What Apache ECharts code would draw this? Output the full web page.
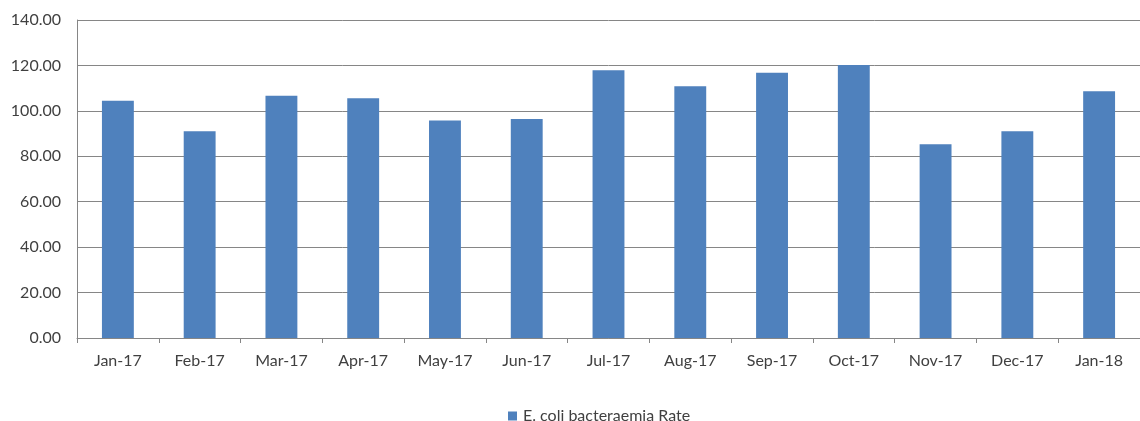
<!DOCTYPE html>
<html>
<head>
<meta charset="utf-8">
<script src="https://cdn.jsdelivr.net/npm/echarts@6/dist/echarts.min.js"></script>
<style>
html,body{margin:0;padding:0;background:#fff;}
#chart{width:1140px;height:421px;}
</style>
</head>
<body>
<div id="chart"></div>
<script>
const categories = ['Jan-17','Feb-17','Mar-17','Apr-17','May-17','Jun-17','Jul-17','Aug-17','Sep-17','Oct-17','Nov-17','Dec-17','Jan-18'];
const rateValues = [104.5, 91.0, 106.7, 105.5, 95.7, 96.4, 117.9, 110.8, 116.8, 120.2, 85.3, 91.0, 108.6];
const seriesName = 'E. coli bacteraemia Rate';
const yTicks = [0, 20, 40, 60, 80, 100, 120, 140];

const chart = echarts.init(document.getElementById('chart'), null, {renderer: 'canvas'});
const font = 'Lato, "Open Sans", sans-serif';
chart.setOption({
  animation: false,
  backgroundColor: '#ffffff',
  textStyle: {fontFamily: font},
  grid: {left: 77, right: 0, top: 20, bottom: 83, containLabel: false},
  legend: {
    data: [seriesName],
    left: 503,
    top: 403,
    icon: 'rect',
    itemWidth: 9,
    itemHeight: 9,
    itemGap: 10,
    textStyle: {fontFamily: font, fontSize: 16, color: '#404040', padding: [0, 0, 0, 1]}
  },
  xAxis: {
    type: 'category',
    data: categories,
    boundaryGap: true,
    axisLine: {show: true, lineStyle: {color: '#868686', width: 1}},
    axisTick: {show: true, length: 5, lineStyle: {color: '#868686'}},
    axisLabel: {fontFamily: font, fontSize: 16, color: '#404040', margin: 15, interval: 0}
  },
  yAxis: {
    type: 'value',
    min: yTicks[0],
    max: yTicks[yTicks.length - 1],
    interval: 20,
    axisLine: {show: true, lineStyle: {color: '#868686', width: 1}},
    axisTick: {show: false},
    splitLine: {show: true, lineStyle: {color: '#868686', width: 1}},
    axisLabel: {fontFamily: font, fontSize: 16, color: '#404040', margin: 16,
      formatter: v => v.toFixed(2)}
  },
  series: [{
    name: seriesName,
    type: 'bar',
    data: rateValues,
    barWidth: '39%',
    itemStyle: {color: '#4F81BD'}
  }]
});
</script>
</body>
</html>
